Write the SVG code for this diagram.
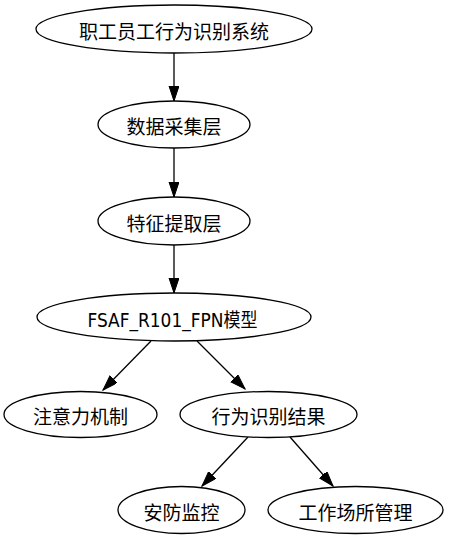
<svg xmlns="http://www.w3.org/2000/svg" width="449" height="539" viewBox="0 0 449 539">
<defs>
<style>
.node ellipse{fill:#fff;stroke:#000;stroke-width:1.3}
.node text{font-family:"DejaVu Sans","Noto Sans CJK SC",sans-serif;font-size:19px;text-anchor:middle;fill:#000}
.edges line{stroke:#000;stroke-width:1.3;marker-end:url(#arr)}
</style>
<marker id="arr" markerUnits="userSpaceOnUse" markerWidth="16" markerHeight="12" refX="15" refY="5" orient="auto">
<path d="M0,0 L15,5 L0,10 Z" fill="#000" stroke="#000" stroke-width="1"/>
</marker>
</defs>
<rect width="449" height="539" fill="#fff"/>
<g class="edges">
<line x1="174" y1="53" x2="174" y2="101"/>
<line x1="174" y1="148" x2="174" y2="197"/>
<line x1="174" y1="245" x2="174" y2="293"/>
<line x1="151" y1="341" x2="103" y2="390"/>
<line x1="197" y1="341" x2="245" y2="389"/>
<line x1="248" y1="437" x2="202" y2="486"/>
<line x1="290" y1="437" x2="333" y2="486"/>
</g>
<g id="n1" class="node"><ellipse cx="174" cy="29" rx="138" ry="24"/><text x="174" y="38.5">职工员工行为识别系统</text></g>
<g id="n2" class="node"><ellipse cx="174" cy="124.5" rx="76" ry="23.5"/><text x="174" y="134">数据采集层</text></g>
<g id="n3" class="node"><ellipse cx="174" cy="221" rx="76" ry="24"/><text x="174" y="230.5">特征提取层</text></g>
<g id="n4" class="node"><ellipse cx="174" cy="317" rx="137" ry="24"/><text x="172.5" y="326.5" textLength="170" lengthAdjust="spacingAndGlyphs">FSAF_R101_FPN模型</text></g>
<g id="n5" class="node"><ellipse cx="80.5" cy="414.5" rx="76.5" ry="23"/><text x="80.5" y="424">注意力机制</text></g>
<g id="n6" class="node"><ellipse cx="268.5" cy="414.5" rx="88.5" ry="23"/><text x="268.5" y="424">行为识别结果</text></g>
<g id="n7" class="node"><ellipse cx="181.5" cy="510" rx="63.5" ry="23.5"/><text x="181.5" y="519.5">安防监控</text></g>
<g id="n8" class="node"><ellipse cx="355.5" cy="510" rx="87.5" ry="23.5"/><text x="355.5" y="519.5">工作场所管理</text></g>
</svg>
